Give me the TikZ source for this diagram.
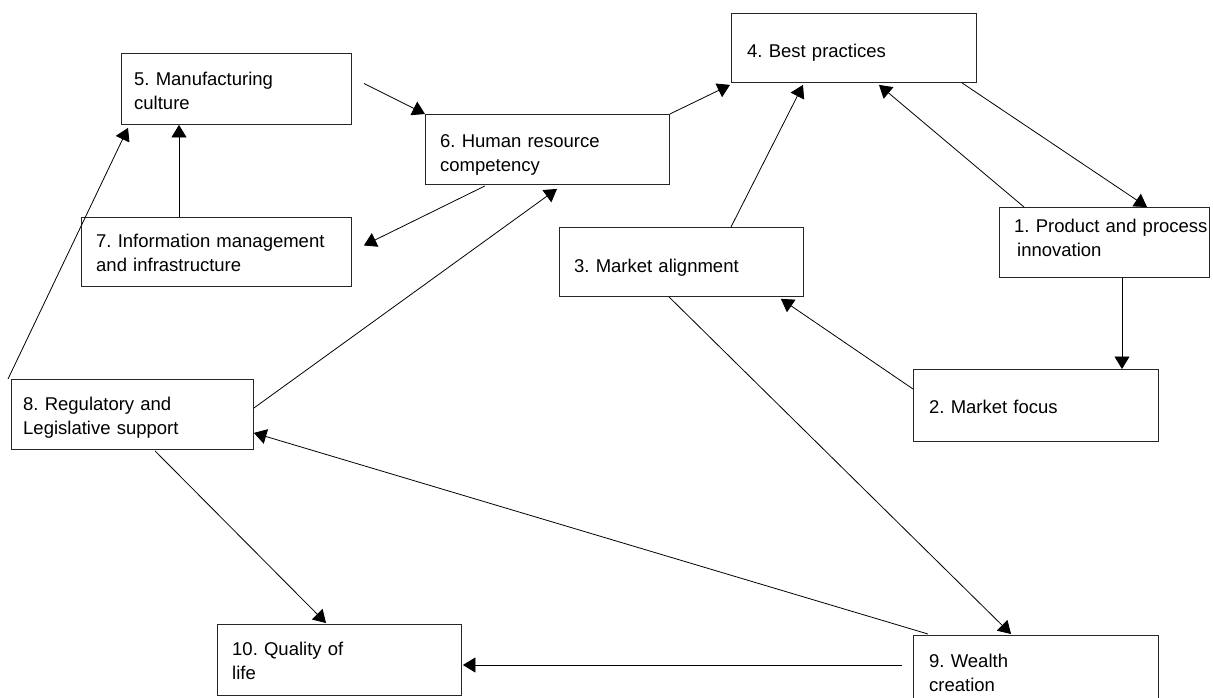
\documentclass[tikz,border=0pt]{standalone}
\usepackage{fontspec}
\setmainfont{Liberation Sans}
\usetikzlibrary{arrows.meta,calc}
\frenchspacing
\tikzset{
  box/.style={draw=black!85, line width=0.9pt, rectangle, inner sep=0pt, anchor=north west},
  lbl/.style={anchor=base west, inner sep=0pt, align=left, text width=260pt,
    font=\fontsize{18.5}{24}\selectfont\frenchspacing},
  conn/.style={line width=0.8pt, -{Triangle[length=12.5pt,width=15pt]}},
  plainline/.style={line width=0.8pt}
}
\begin{document}
\begin{tikzpicture}[x=1pt,y=-1pt]
\path[use as bounding box, clip] (0,0) rectangle (1213,697);
\fill[white] (0,0) rectangle (1213,697);
% boxes
\node[box, minimum width=230pt, minimum height=71pt] (b5) at (121,53) {};
\node[box, minimum width=270pt, minimum height=69pt] (b7) at (81,217) {};
\node[box, minimum width=244pt, minimum height=70pt] (b6) at (425,114) {};
\node[box, minimum width=245pt, minimum height=69pt] (b4) at (731,13) {};
\node[box, minimum width=244pt, minimum height=69pt] (b3) at (559,227) {};
\node[box, minimum width=210pt, minimum height=70pt] (b1) at (999,207) {};
\node[box, minimum width=245pt, minimum height=72pt] (b2) at (913,369) {};
\node[box, minimum width=242pt, minimum height=70pt] (b8) at (11,379) {};
\node[box, minimum width=244pt, minimum height=71pt] (b10) at (217,624) {};
\node[box, minimum width=245pt, minimum height=71pt] (b9) at (913,635) {};
% texts
\node[lbl] (t5) at (134,85) {5. Manufacturing\\culture};
\node[lbl] (t7) at (96,247) {7. Information management\\and infrastructure};
\node[lbl] (t6) at (440,147) {6. Human resource\\competency};
\node[lbl] (t4) at (747,57) {4. Best practices};
\node[lbl] (t3) at (574,272) {3. Market alignment};
\node[lbl] (t1) at (1014,232) {1. Product and process\\\hspace*{3pt}innovation};
\node[lbl] (t2) at (929,413) {2. Market focus};
\node[lbl] (t9) at (929,667) {9. Wealth\\creation};
\node[lbl] (t8) at (23,410) {8. Regulatory and\\Legislative support};
\node[lbl] (t10) at (232,655) {10. Quality of\\life};
% connectors
\draw[conn] ($(b7.north west)+(98,0)$) -- ($(b5.south west)+(58,0)$);
\draw[conn] ($(b5.east)+(12,-5.5)$) -- (b6.north west);
\draw[conn] ($(b6.south west)+(60,1)$) -- ($(b7.east)+(12,-6.5)$);
\draw[conn] (b6.north east) -- ($(b4.south west)+(-1,2)$);
\draw[conn] ($(b3.north west)+(172,0)$) -- ($(b4.south west)+(72,2)$);
\draw[conn] ($(b1.north west)+(25,0)$) -- ($(b4.south west)+(148,2)$);
\draw[conn] ($(b4.south west)+(231,0)$) -- ($(b1.north west)+(148,0)$);
\draw[conn] ($(b1.south west)+(123,0)$) -- ($(b2.north west)+(209,0)$);
\draw[conn] ($(b2.north west)+(0,20)$) -- ($(b3.south east)+(-23,2)$);
\draw[conn] ($(b3.south west)+(110,0)$) -- ($(b9.north west)+(98,-1)$);
\draw[conn] ($(b9.north west)+(15,-1)$) -- ($(b8.south east)+(0,-17)$);
\draw[conn] ($(b9.north west)+(-11,30)$) -- ($(b10.north east)+(1,41)$);
\draw[conn] ($(b8.south west)+(144,1)$) -- ($(b10.north west)+(109,-1)$);
\draw[conn] ($(b8.north east)+(0,29)$) -- ($(b6.south west)+(132,4)$);
\draw[conn] ($(b8.north west)+(-3,0)$) -- ($(b5.south west)+(7,3)$);
\end{tikzpicture}
\end{document}
